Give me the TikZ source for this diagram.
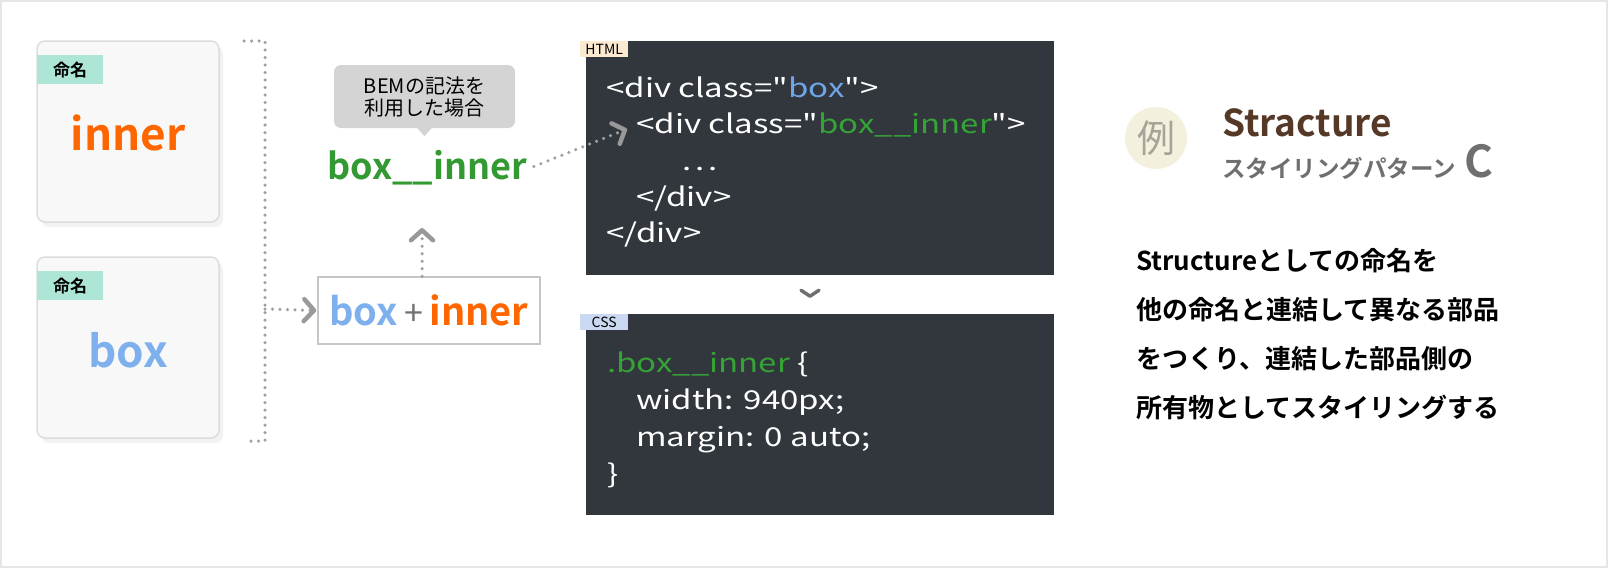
\documentclass[tikz,border=0pt]{standalone}
\usepackage{fontspec}
\setmainfont{Noto Sans CJK JP}[BoldFont={Noto Sans CJK JP Bold}]
\newfontfamily\codefont{Noto Sans CJK JP}[FakeStretch=1.27]
\usetikzlibrary{positioning,arrows.meta,shadows,calc}
\newcommand\fsz[1]{\fontsize{#1}{#1}\selectfont}
\definecolor{innerorange}{HTML}{FF6600}
\definecolor{boxblue}{HTML}{7EB0EE}
\definecolor{bemgreen}{HTML}{339933}
\definecolor{codegreen}{HTML}{35A335}
\definecolor{codeblue}{HTML}{6FA6EA}
\definecolor{mint}{HTML}{ADE6D7}
\definecolor{bubblegray}{HTML}{D4D4D4}
\definecolor{codebg}{HTML}{32373D}
\definecolor{htmltag}{HTML}{FBE9D0}
\definecolor{csstag}{HTML}{CAD8F2}
\definecolor{exbg}{HTML}{F3F0DD}
\definecolor{exfg}{HTML}{A8A398}
\definecolor{titlebrown}{HTML}{553826}
\definecolor{subgray}{HTML}{6F6F6F}
\definecolor{dotgray}{HTML}{A0A0A0}
\definecolor{chevgray}{HTML}{999999}
\definecolor{cardfill}{HTML}{F8F8F8}
\definecolor{cardline}{HTML}{DDDDDD}
\definecolor{frameline}{HTML}{E6E6E6}
\begin{document}
\begin{tikzpicture}[x=1pt,y=-1pt,
  card/.style={draw=cardline,line width=1.5pt,fill=cardfill,rounded corners=8pt,
    minimum width=182pt,minimum height=181pt,
    drop shadow={shadow xshift=4pt,shadow yshift=-5pt,fill=black!10}},
  nametag/.style={fill=mint,minimum width=66pt,minimum height=29pt,inner sep=0pt,
    anchor=north west,font=\fsz{17}\bfseries},
  bigword/.style={font=\fsz{44}\bfseries},
  dots/.style={draw=dotgray,line width=3.5pt,line cap=round,dash pattern=on 0pt off 7.5pt},
  chev/.style={-{Straight Barb[length=10pt,width=22pt,line width=4.5pt,round,color=chevgray]}},
  codebox/.style={fill=codebg,minimum width=468pt,inner sep=0pt},
  langtag/.style={minimum width=48pt,minimum height=16pt,inner sep=0pt,anchor=north west,font=\fsz{14}},
  codeline/.style={anchor=base west,inner sep=0pt,text=white,font=\codefont\fsz{26}},
  descline/.style={anchor=base west,inner sep=0pt,font=\fsz{26}\bfseries}]
\useasboundingbox (0,0) rectangle (1608,568);
\draw[frameline,line width=2pt] (1,1) rectangle (1607,567);

% naming cards
\node[card] (innercard) at (128,131.5) {};
\node[nametag] (innertag) at (37,55) {命名};
\node[bigword,text=innerorange] (innerword) at (128,133) {inner};
\node[card] (boxcard) at (128,347.5) {};
\node[nametag] (boxtag) at (37,271) {命名};
\node[bigword,text=boxblue] (boxword) at (128,350) {box};

% bracket
\coordinate (brtop) at (244,41);
\coordinate (brbot) at (244,441);
\coordinate (brjoin) at (265,309);
\draw[dots] (brtop) -- (265,41) -- (265,441) -- (brbot);

% combined name
\node[draw=gray!45,line width=1.5pt,fill=white,minimum width=222pt,minimum height=67pt,
  font=\fsz{38}\bfseries] (plus) at (429,310.5)
  {\textcolor{boxblue}{box}\,{\fsz{34}\mdseries\textcolor{gray!90!black}{+}}\,\textcolor{innerorange}{inner}};
\draw[dots,chev,shorten >=1pt] (brjoin) -- (plus.west);

\node[font=\fsz{36}\bfseries,text=bemgreen] (bem) at (427,168) {box\_\_inner};
\coordinate (uptip) at (422,228);
\draw[dots,chev] (plus.north -| uptip) -- (uptip);

\node[fill=bubblegray,rounded corners=7pt,minimum width=181pt,minimum height=63pt,
  align=center,font=\fontsize{20}{22}\selectfont] (note) at (424.5,96.5) {BEMの記法を\\利用した場合};
\fill[bubblegray] ($(note.south)+(-8,-1)$) -- ++(8,9) -- ++(8,-9) -- cycle;

% html
\node[codebox,minimum height=234pt] (html) at (820,158) {};
\node[langtag,fill=htmltag] (htmltag) at (580,41) {HTML};
\node[codeline] (h1) at (606,97) {<div class="\textcolor{codeblue}{box}">};
\node[codeline] (h2) at (636,133) {<div class="\textcolor{codegreen}{box\_\_inner}">};
\node[codeline] (h3) at (682,170) {.\hspace{4pt}.\hspace{4pt}.};
\node[codeline] (h4) at (636,206) {</div>};
\node[codeline] (h5) at (606,242) {</div>};
\coordinate (htmlin) at (627,129);
\draw[dots,chev,shorten <=4pt] (bem.east) -- (htmlin);

\draw[subgray,line width=3.5pt,line cap=round,line join=round]
  ($(html.south)+(-19,15)$) -- ++(9,6) -- ++(9,-6);

% css
\node[codebox,minimum height=201pt] (css) at (820,414.5) {};
\node[langtag,fill=csstag] (csstagbox) at (580,314) {CSS};
\node[codeline] (c1) at (607,372) {\textcolor{codegreen}{.box\_\_inner} \{};
\node[codeline] (c2) at (636,409) {width: 940px;};
\node[codeline] (c3) at (636,446) {margin: 0 auto;};
\node[codeline] (c4) at (607,483) {\}};

% example title
\node[circle,fill=exbg,minimum size=62pt,inner sep=0pt,text=exfg,font=\fsz{38}] (ex) at (1156,138) {例};
\node[anchor=base west,inner sep=0pt,text=titlebrown,font=\fsz{37}\bfseries] (title) at (1222,136) {Stracture};
\node[anchor=base west,inner sep=0pt,text=subgray,font=\bfseries] (sub) at (1222,177)
  {{\fsz{23.5}スタイリングパターン}\hspace{8pt}{\fsz{44}C}};

% description
\foreach \txt [count=\i] in {Structureとしての命名を,他の命名と連結して異なる部品,
    をつくり、連結した部品側の,所有物としてスタイリングする}
  \node[descline] (desc\i) at (1136,221+49*\i) {\txt};
\end{tikzpicture}
\end{document}
